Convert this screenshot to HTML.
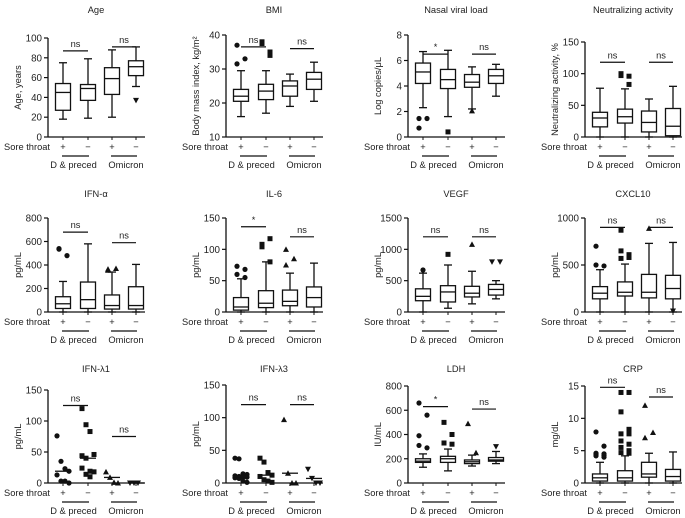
<!DOCTYPE html>
<html><head><meta charset="utf-8"><style>
body{margin:0;background:#fff;}
svg{display:block;font-family:"Liberation Sans",sans-serif;}
text{fill:#222;}
</style></head><body>
<svg id="c" width="685" height="518"></svg>
<script>
const titles=["Age","BMI","Nasal viral load","Neutralizing activity","IFN-α","IL-6","VEGF","CXCL10","IFN-λ1","IFN-λ3","LDH","CRP"];
const yTitles=["Age, years","Body mass index, kg/m²","Log copies/μL","Neutralizing activity, %","pg/mL","pg/mL","pg/mL","pg/mL","pg/mL","pg/mL","IU/mL","mg/dL"];
const yMax=[100,40,8,150,800,150,1500,1000,150,150,800,15];
const yMin=[0,10,0,0,0,0,0,0,0,0,0,0];
const yStep=[20,10,2,50,200,50,500,500,50,50,200,5];
const sigLabels=[["ns","ns"],["ns","ns"],["*","ns"],["ns","ns"],["ns","ns"],["*","ns"],["ns","ns"],["ns","ns"],["ns","ns"],["ns","ns"],["*","ns"],["ns","ns"]];
const sigValues=[[87,91],[36.5,36],[6.5,6.5],[118,118],[680,590],[136,120],[1200,1200],[900,900],[125,75],[120,120],[630,610],[14.8,13.3]];
const boxes=[
[[18,27,45,54,75],[19,37,49,53,79],[20,43,59,70,88],[51,62,71,77,91]],
[[16,20.5,22,24,29.5],[17,21,23.5,25.5,29.5],[19,22,25,26.5,28.5],[20.5,24,27,29,32]],
[[2.3,4.2,5.1,5.8,6.7],[1.6,3.8,4.5,5.3,6.8],[2.2,3.9,4.3,4.9,5.5],[3.2,4.2,4.8,5.3,5.7]],
[[0,16,30,39,77],[0,22,32,44,76],[0,8,23,41,60],[0,2,17,45,80]],
[[0,30,70,130,260],[0,30,105,255,580],[0,25,55,145,340],[0,25,55,215,405]],
[[0,3,8,23,53],[0,7,14,34,80],[0,10,17,35,62],[0,8,23,40,78]],
[[0,180,250,370,620],[60,160,320,420,750],[130,240,300,410,650],[210,270,360,440,500]],
[[0,140,200,270,450],[0,170,210,320,510],[0,150,210,400,730],[0,140,250,390,740]],
null,null,
[[130,170,180,200,240],[100,170,200,220,280],[140,160,175,190,230],[160,180,190,210,260]],
[[0,0.3,0.8,1.4,3.2],[0,0.3,0.8,1.9,4.2],[0,0.9,1.4,3.2,4.6],[0,0.3,1,2.1,4.8]]];
const outliers=[
[[],[],[],[37]],
[[37,33,31.5],[37.5,34,38,35],[],[]],
[[1.45,1.45,0.7],[0.4],[2.05],[]],
[[],[100,96,97,83],[],[]],
[[540,480,535],[],[355,370,365],[]],
[[73,68,60,55],[108,117,104,80],[100,85,75],[]],
[[670],[920],[1080],[800,800]],
[[700,490,500],[870,610,650,580,570],[890],[10]],
[[76,35,23,19,13,3,3,0],[120,94,83,46,44,40,19,18,24,14,10],[18,9,1,0],[0,0,0]],
[[38,37,14,13,11,10,9,9,8,7,3,1],[38,32,16,12,10,5,3,1],[97,15,0,0],[21,7,0,0]],
[[660,560,390,290,310],[500,400,330,320,330],[490,250],[300]],
[[7.9,5.7,4.6,4.5,4.4,4,4.2,4.3],[14,14,11,8.3,7.6,7.6,6.5,6,5.5,5,4.7,4.6],[12,7.8,7],[]]];
const NS="http://www.w3.org/2000/svg";
const svg=document.getElementById('c');
function mk(tag,at,parent,txt){const e=document.createElementNS(NS,tag);for(const k in at)e.setAttribute(k,at[k]);if(txt!==undefined)e.textContent=txt;(parent||svg).appendChild(e);return e;}
const axX=[48,226,408,585];
const rowTitleY=[13,197,372];
const tops=[38,35,35,42,218,218,218,218,390,385,386,386];
const bots=[137,137,137,137,312,312,312,312,483,483,483,483];
const offs=[15,40,64,88];
const FS=9.3;
function marker(g,k,x,y){
  if(k==0)mk('circle',{cx:x,cy:y,r:2.6,fill:'#111'},g);
  else if(k==1)mk('rect',{x:x-2.5,y:y-2.5,width:5,height:5,fill:'#111'},g);
  else if(k==2)mk('path',{d:`M${x} ${y-3}L${x+3} ${y+2.5}L${x-3} ${y+2.5}Z`,fill:'#111'},g);
  else mk('path',{d:`M${x} ${y+3}L${x+3} ${y-2.5}L${x-3} ${y-2.5}Z`,fill:'#111'},g);
}
for(let p=0;p<12;p++){
  const col=p%4,row=Math.floor(p/4),ax=axX[col],top=tops[p],bot=bots[p];
  const Y=v=>bot-(v-yMin[p])/(yMax[p]-yMin[p])*(bot-top);
  const g=mk('g',{});
  
  
  const t=mk('text',{x:ax+48,y:rowTitleY[row],'text-anchor':'middle','font-size':FS},g,titles[p]);
  
  
  mk('line',{x1:ax,y1:top,x2:ax,y2:bot,stroke:'#111','stroke-width':1.3},g);
  mk('line',{x1:ax,y1:bot,x2:ax+97,y2:bot,stroke:'#111','stroke-width':1.3},g);
  for(let v=yMin[p];v<=yMax[p]+1e-9;v+=yStep[p]){
    mk('line',{x1:ax-4,y1:Y(v),x2:ax,y2:Y(v),stroke:'#111','stroke-width':1.2},g);
    mk('text',{x:ax-6,y:Y(v)+3.5,'text-anchor':'end','font-size':FS+0.5},g,String(v));
  }
  const yt=mk('text',{x:0,y:0,'text-anchor':'middle','font-size':FS,transform:`translate(${ax-27},${(top+bot)/2}) rotate(-90)`},g,yTitles[p]);
  
  
  for(let k=0;k<4;k++){
    const cx=ax+offs[k];
    mk('line',{x1:cx,y1:bot,x2:cx,y2:bot+3,stroke:'#111'},g);
    const b=boxes[p];
    if(b){
      const d=b[k];
      const bx=mk('g',{},g);
      
      
      mk('line',{x1:cx,y1:Y(d[0]),x2:cx,y2:Y(d[4]),stroke:'#111','stroke-width':1.3},bx);
      mk('line',{x1:cx-4,y1:Y(d[0]),x2:cx+4,y2:Y(d[0]),stroke:'#111','stroke-width':1.3},bx);
      mk('line',{x1:cx-4,y1:Y(d[4]),x2:cx+4,y2:Y(d[4]),stroke:'#111','stroke-width':1.3},bx);
      mk('rect',{x:cx-7.5,y:Y(d[3]),width:15,height:Y(d[1])-Y(d[3]),fill:'#fff',stroke:'#111','stroke-width':1.3},bx);
      mk('line',{x1:cx-7.5,y1:Y(d[2]),x2:cx+7.5,y2:Y(d[2]),stroke:'#111','stroke-width':1.3},bx);
    }
    const pts=outliers[p][k];
    pts.forEach((v,i)=>{
      const spread=b?((i%2)?4:-4)*(pts.length>1?1:0):((i%4)-1.5)*4;
      marker(g,k,cx+spread,Y(v));
    });
    if(!b){
      const s=[...pts].sort((a,c)=>a-c),m=s[Math.floor(s.length/2)];
      mk('line',{x1:cx-8,y1:Y(m),x2:cx+8,y2:Y(m),stroke:'#111','stroke-width':1.3},g);
    }
    mk('text',{x:cx,y:bot+13,'text-anchor':'middle','font-size':FS},g,k%2==0?'+':'−');
  }
  mk('text',{x:ax+2,y:bot+13,'text-anchor':'end','font-size':FS},g,'Sore throat');
  for(let j=0;j<2;j++){
    const x1=ax+offs[2*j],x2=ax+offs[2*j+1];
    mk('line',{x1:x1-1,y1:bot+19,x2:x2+1,y2:bot+19,stroke:'#111','stroke-width':1.3},g);
    mk('text',{x:(x1+x2)/2+(j==0?-2:2),y:bot+31,'text-anchor':'middle','font-size':FS},g,j==0?'D & preced':'Omicron');
    const sy=Y(sigValues[p][j]);
    const sl=mk('line',{x1:x1,y1:sy,x2:x2,y2:sy,stroke:'#111','stroke-width':1.2},g);
    
    
    mk('text',{x:(x1+x2)/2,y:sy-4,'text-anchor':'middle','font-size':FS},g,sigLabels[p][j]);
  }
}
</script>
</body></html>
